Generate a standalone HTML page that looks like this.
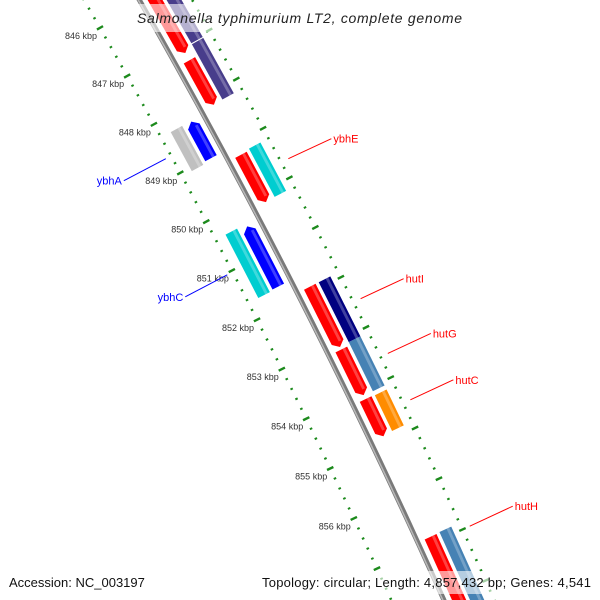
<!DOCTYPE html>
<html><head><meta charset="utf-8"><style>
html,body{margin:0;padding:0;background:#fff;overflow:hidden;width:600px;height:600px;}
svg{display:block;font-family:"Liberation Sans",sans-serif;overflow:hidden;}
</style></head><body>
<svg id="map" width="600" height="600" viewBox="0 0 600 600" xmlns="http://www.w3.org/2000/svg">
<rect width="600" height="600" fill="#fff"/>
<g id="ticks"></g>
<g id="backbone"></g>
<g id="genes"></g>
<g id="labels"></g>
<rect x="128" y="4" width="344" height="28" fill="#fff" opacity="0.6"/>
<text x="137" y="23" textLength="325" lengthAdjust="spacing" font-size="14" font-style="italic" fill="#222">Salmonella typhimurium LT2, complete genome</text>
<rect x="4" y="571" width="150" height="23" fill="#fff" opacity="0.6"/>
<text x="9" y="587" font-size="13" fill="#111">Accession: NC_003197</text>
<rect x="257" y="571" width="339" height="23" fill="#fff" opacity="0.6"/>
<text x="262" y="587" textLength="329" lengthAdjust="spacing" font-size="13" fill="#111">Topology: circular; Length: 4,857,432 bp; Genes: 4,541</text>
</svg>
<script>
// data
const geneStarts = [844.5, 847.3, 849.23, 851.9, 853.16, 854.15, 856.88, 844.5, 847.07, 849.2, 851.9, 853.1, 854.16, 856.87, 848.28, 850.42, 848.27, 850.37];
const geneEnds   = [847.15, 848.21, 850.19, 853.11, 854.07, 854.89, 858.6, 847.05, 848.2, 850.18, 853.1, 854.08, 854.87, 858.6, 849.03, 851.64, 849.07, 851.66];
const geneLanes  = [1,1,1,1,1,1,1, 2,2,2,2,2,2,2, -1,-1, -2,-2];
const geneDirs   = [1,1,1,1,1,1,1, 0,0,0,0,0,0,0, -1,-1, 0,0];
const geneColors = ["#ff0000","#ff0000","#ff0000","#ff0000","#ff0000","#ff0000","#ff0000",
  "#483d8b","#483d8b","#00cdd0","#000080","#4682b4","#ff8c00","#4682b4",
  "#0000ff","#0000ff","#c0c0c0","#00cdd0"];
const labelNames = ["ybhE","hutI","hutG","hutC","hutH","ybhA","ybhC"];
const labelKbp   = [849.69, 852.5, 853.59, 854.51, 857.0, 848.65, 851.03];
const labelSide  = [1,1,1,1,1,-1,-1];
const labelColors= ["#ff0000","#ff0000","#ff0000","#ff0000","#ff0000","#0000ff","#0000ff"];
const tickMajors = [845,846,847,848,849,850,851,852,853,854,855,856,857,858];
const tickLabelTexts = ["845 kbp","846 kbp","847 kbp","848 kbp","849 kbp","850 kbp","851 kbp","852 kbp","853 kbp","854 kbp","855 kbp","856 kbp","",""];

const NS="http://www.w3.org/2000/svg";
const CX=-5854, CY=3419, R=6900;
function P(k,v){const a=(-28.74+0.462*(k-848))*Math.PI/180;const r=R+v;return [CX+r*Math.cos(a),CY+r*Math.sin(a)];}
function mk(tag,attrs,parent){const e=document.createElementNS(NS,tag);for(const a in attrs)e.setAttribute(a,attrs[a]);parent.appendChild(e);return e;}
const laneV={1:[7.5,20.5],2:[24,37],"-1":[-20.5,-7.5],"-2":[-37,-24]};

// ticks
const tg=document.getElementById('ticks');
const TC="#1c8a1c";
tickMajors.forEach((m,i)=>{
  for(let j=0;j<5;j++){
    const k=m+j*0.2;
    [-48,46].forEach(vc=>{
      const len=j===0?3.5:1.3;
      const a=P(k,vc-len), b=P(k,vc+len);
      const t=mk('line',{x1:a[0],y1:a[1],x2:b[0],y2:b[1],stroke:TC,'stroke-width':j===0?2.4:2},tg);
      
      
    });
  }
  if(tickLabelTexts[i]){
    const p=P(m,-48);
    const tx=mk('text',{x:p[0]-3,y:p[1]+11,'text-anchor':'end','font-size':'9',fill:'#333'},tg);
    tx.textContent=tickLabelTexts[i];
    
    
  }
});

// backbone
const bg=document.getElementById('backbone');
function arcPath(v,k0,k1){let d="";for(let k=k0;k<=k1+1e-9;k+=0.25){const p=P(k,v);d+=(d?"L":"M")+p[0].toFixed(2)+","+p[1].toFixed(2);}return d;}
const b1=mk('path',{d:arcPath(0,845,858.5),stroke:'#7a7a7a','stroke-width':5,fill:'none'},bg);


const b2=mk('path',{d:arcPath(-1,845,858.5),stroke:'#b8b8b8','stroke-width':1.5,fill:'none'},bg);



// genes
const gg=document.getElementById('genes');
function poly(pts){return pts.map(p=>p[0].toFixed(2)+","+p[1].toFixed(2)).join(" ");}
geneStarts.forEach((s,i)=>{
  const e=geneEnds[i];const [lo,hi]=laneV[geneLanes[i]];const mid=(lo+hi)/2;const h=0.1;
  let pts;
  if(geneDirs[i]===1){pts=[P(s,lo),P(e-h,lo),P(e,mid),P(e-h,hi),P(s,hi)];}
  else if(geneDirs[i]===-1){pts=[P(s,mid),P(s+h,lo),P(e,lo),P(e,hi),P(s+h,hi)];}
  else{pts=[P(s,lo),P(e,lo),P(e,hi),P(s,hi)];}
  const g=mk('polygon',{points:poly(pts),fill:geneColors[i]},gg);
  
  
  const w=hi-lo, a=lo+w*0.6, b=lo+w*0.82;
  const s2=geneDirs[i]===-1?s+h:s, e2=geneDirs[i]===1?e-h:e;
  const hl=mk('polygon',{points:poly([P(s2,a),P(e2,a),P(e2,b),P(s2,b)]),fill:'#fff',opacity:'0.25'},gg);
  
  
});

// labels
const lg=document.getElementById('labels');
labelNames.forEach((n,i)=>{
  const side=labelSide[i];
  const p=P(labelKbp[i],54*side);
  const q=side>0?[p[0]+43,p[1]-20]:[p[0]-42,p[1]+22];
  const ln=mk('line',{x1:p[0],y1:p[1],x2:q[0],y2:q[1],stroke:labelColors[i],'stroke-width':1},lg);
  
  
  const t=mk('text',{x:side>0?q[0]+2:q[0]-2,y:q[1]+4,'text-anchor':side>0?'start':'end','font-size':'11',fill:labelColors[i]},lg);
  t.textContent=n;
  
  
});
</script>
</body></html>
